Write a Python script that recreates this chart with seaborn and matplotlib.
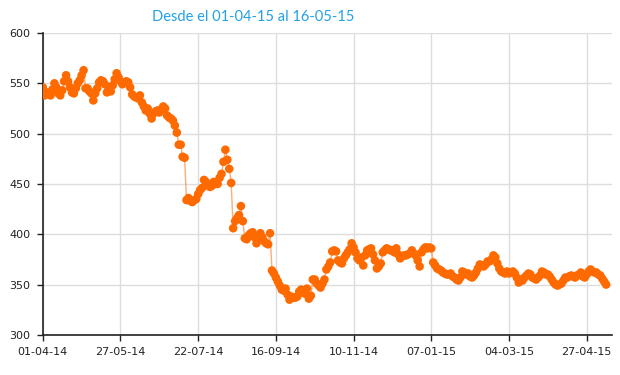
import matplotlib
matplotlib.use("Agg")
import matplotlib.pyplot as plt
import numpy as np
import pandas as pd
import seaborn as sns

# daily closing values (trading days only)
values = [
    546, 538, 541, 540, 538, 544, 550, 546, 540, 538,
    543, 552, 558, 552, 546, 541, 540, 545, 550, 553,
    558, 563, 545, 545, 542, 540, 533, 540, 545, 551,
    553, 552, 549, 541, 544, 542, 548, 554, 560, 556,
    552, 549, 551, 552, 551, 546, 539, 537, 536, 535,
    538, 531, 527, 523, 525, 520, 515, 520, 522, 523,
    521, 524, 527, 525, 518, 516, 515, 513, 508, 501,
    489, 489, 477, 476, 434, 436, 433, 432, 434, 435,
    440, 444, 446, 454, 452, 449, 447, 448, 452, 450,
    450, 456, 460, 472, 484, 474, 465, 451, 406, 413,
    416, 419, 428, 413, 396, 395, 399, 401, 402, 397,
    391, 395, 401, 397, 393, 391, 390, 401, 364, 361,
    357, 353, 349, 345, 344, 346, 340, 335, 338, 337,
    337, 338, 343, 345, 342, 341, 346, 336, 339, 355,
    355, 351, 349, 347, 351, 355, 365, 368, 372, 383,
    384, 383, 374, 372, 371, 376, 379, 382, 385, 391,
    387, 382, 376, 374, 377, 369, 379, 384, 385, 386,
    380, 374, 366, 368, 371, 382, 384, 386, 385, 384,
    384, 382, 386, 380, 376, 378, 379, 379, 380, 381,
    384, 381, 379, 374, 368, 382, 385, 387, 386, 387,
    386, 372, 369, 366, 365, 364, 362, 361, 360, 360,
    361, 358, 357, 355, 354, 357, 363, 362, 360, 361,
    358, 357, 359, 362, 366, 370, 369, 368, 370, 373,
    373, 375, 379, 377, 371, 366, 363, 362, 361, 363,
    361, 362, 363, 361, 357, 352, 355, 354, 357, 359,
    361, 360, 357, 356, 355, 357, 359, 363, 362, 360,
    360, 358, 355, 352, 350, 349, 350, 351, 354, 357,
    357, 358, 359, 358, 357, 359, 360, 362, 358, 357,
    360, 363, 365, 363, 362, 362, 360, 359, 356, 353, 350,
]
tick_labels = ["01-04-14", "27-05-14", "22-07-14", "16-09-14",
               "10-11-14", "07-01-15", "04-03-15", "27-04-15"]
tick_step = 40
title = "Desde el 01-04-15 al 16-05-15"

df = pd.DataFrame({"dia": np.arange(len(values)), "valor": values})

sns.set_style("white")
plt.rcParams["font.family"] = ["DejaVu Sans"]

fig = plt.figure(figsize=(6.2, 3.75), dpi=100)
ax = fig.add_axes([0.069, 0.107, 0.918, 0.805])

orange = "#ff6a00"
sns.lineplot(data=df, x="dia", y="valor", color=orange, alpha=0.55,
             linewidth=1.0, ax=ax)
sns.scatterplot(data=df, x="dia", y="valor", color=orange, s=38,
                edgecolor="none", ax=ax, zorder=3)

ax.set_xlim(0, 293)
ax.set_ylim(300, 600)
ax.set_xticks(np.arange(len(tick_labels)) * tick_step)
ax.set_xticklabels(tick_labels)
ax.set_yticks(range(300, 601, 50))
ax.set_xlabel("")
ax.set_ylabel("")
ax.grid(True, color="#dddddd", linewidth=1)
ax.set_axisbelow(True)

for side in ["top", "right"]:
    ax.spines[side].set_visible(False)
for side in ["left", "bottom"]:
    ax.spines[side].set_color("#222222")
    ax.spines[side].set_linewidth(1.2)
ax.tick_params(axis="both", which="both", direction="out", length=4,
               width=1, color="#222222", labelsize=8, labelcolor="#222222",
               left=True, bottom=True, pad=5)

fig.text(0.409, 0.955, title, color="#23a0e6", fontsize=10.5,
         family=["Lato", "DejaVu Sans"], ha="center", va="center")

plt.savefig("out.png", dpi=100)
